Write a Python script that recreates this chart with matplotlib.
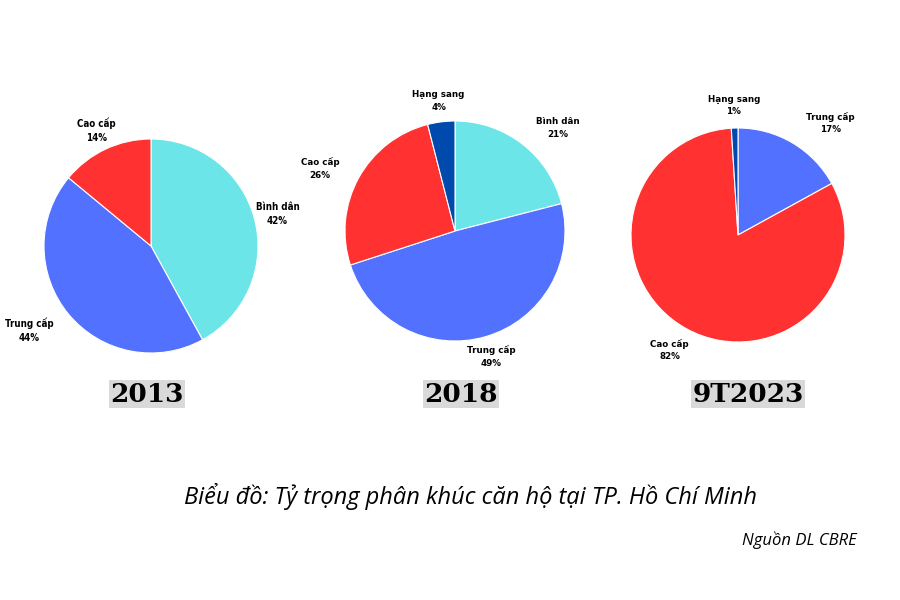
import numpy as np
import matplotlib
matplotlib.use('Agg')
import matplotlib.pyplot as plt

# data: share of apartment segments in HCMC (CBRE)
labels_2013 = ['Bình dân', 'Trung cấp', 'Cao cấp']
values_2013 = [42, 44, 14]
labels_2018 = ['Bình dân', 'Trung cấp', 'Cao cấp', 'Hạng sang']
values_2018 = [21, 49, 26, 4]
labels_2023 = ['Trung cấp', 'Cao cấp', 'Hạng sang']
values_2023 = [17, 82, 1]
years = ['2013', '2018', '9T2023']

colors = {'Bình dân': '#6CE5E8', 'Trung cấp': '#5271FF',
          'Cao cấp': '#FF3131', 'Hạng sang': '#004AAD'}

# layout in pixels: (center x, center y, radius), label distances, label angle offsets, font
layout = [
    (151, 246, 107, [1.22, 1.38, 1.20], [0, -5, 0], dict(family='DejaVu Sans', stretch='condensed', fontsize=7)),
    (455, 231, 110, [1.32, 1.19, 1.35, 1.19], [-7, 0, 4, 0], dict(family='DejaVu Sans', stretch='normal', fontsize=6.3)),
    (738, 235, 107, [1.36, 1.25, 1.21], [-9, -2, 0], dict(family='DejaVu Sans', stretch='normal', fontsize=6.3)),
]
title_x = [147, 461, 748]

W, H = 900, 600
fig = plt.figure(figsize=(9, 6), dpi=100)
fig.patch.set_facecolor('white')

datasets = [(labels_2013, values_2013), (labels_2018, values_2018), (labels_2023, values_2023)]
for (labs, vals), (cx, cy, r, dists, offs, font), yr, tx in zip(datasets, layout, years, title_x):
    ax = fig.add_axes([(cx - r) / W, (H - cy - r) / H, 2 * r / W, 2 * r / H])
    wedges, _ = ax.pie(vals, colors=[colors[l] for l in labs], startangle=90,
                       counterclock=False, radius=1,
                       wedgeprops=dict(edgecolor='white', linewidth=0.8))
    ax.set_xlim(-1, 1)
    ax.set_ylim(-1, 1)
    ax.set_aspect('equal')
    ax.axis('off')
    for w, lab, v, d, o in zip(wedges, labs, vals, dists, offs):
        ang = np.deg2rad((w.theta1 + w.theta2) / 2 + o)
        ax.text(d * np.cos(ang), d * np.sin(ang), f'{lab}\n{v}%',
                ha='center', va='center', fontweight='bold',
                linespacing=1.5, clip_on=False, **font)
    fig.text(tx / W, 1 - 394 / H, yr, ha='center', va='center',
             family='DejaVu Serif', fontweight='bold', fontsize=19,
             bbox=dict(facecolor='#D9D9D9', edgecolor='none', pad=1.0))

fig.text(470 / W, 1 - 497 / H, 'Biểu đồ: Tỷ trọng phân khúc căn hộ tại TP. Hồ Chí Minh',
         ha='center', va='center', family='Open Sans', style='italic', fontsize=17)
fig.text(857 / W, 1 - 540 / H, 'Nguồn DL CBRE', ha='right', va='center',
         family='Open Sans', style='italic', fontsize=12)

fig.savefig('out.png', dpi=100, facecolor='white')
